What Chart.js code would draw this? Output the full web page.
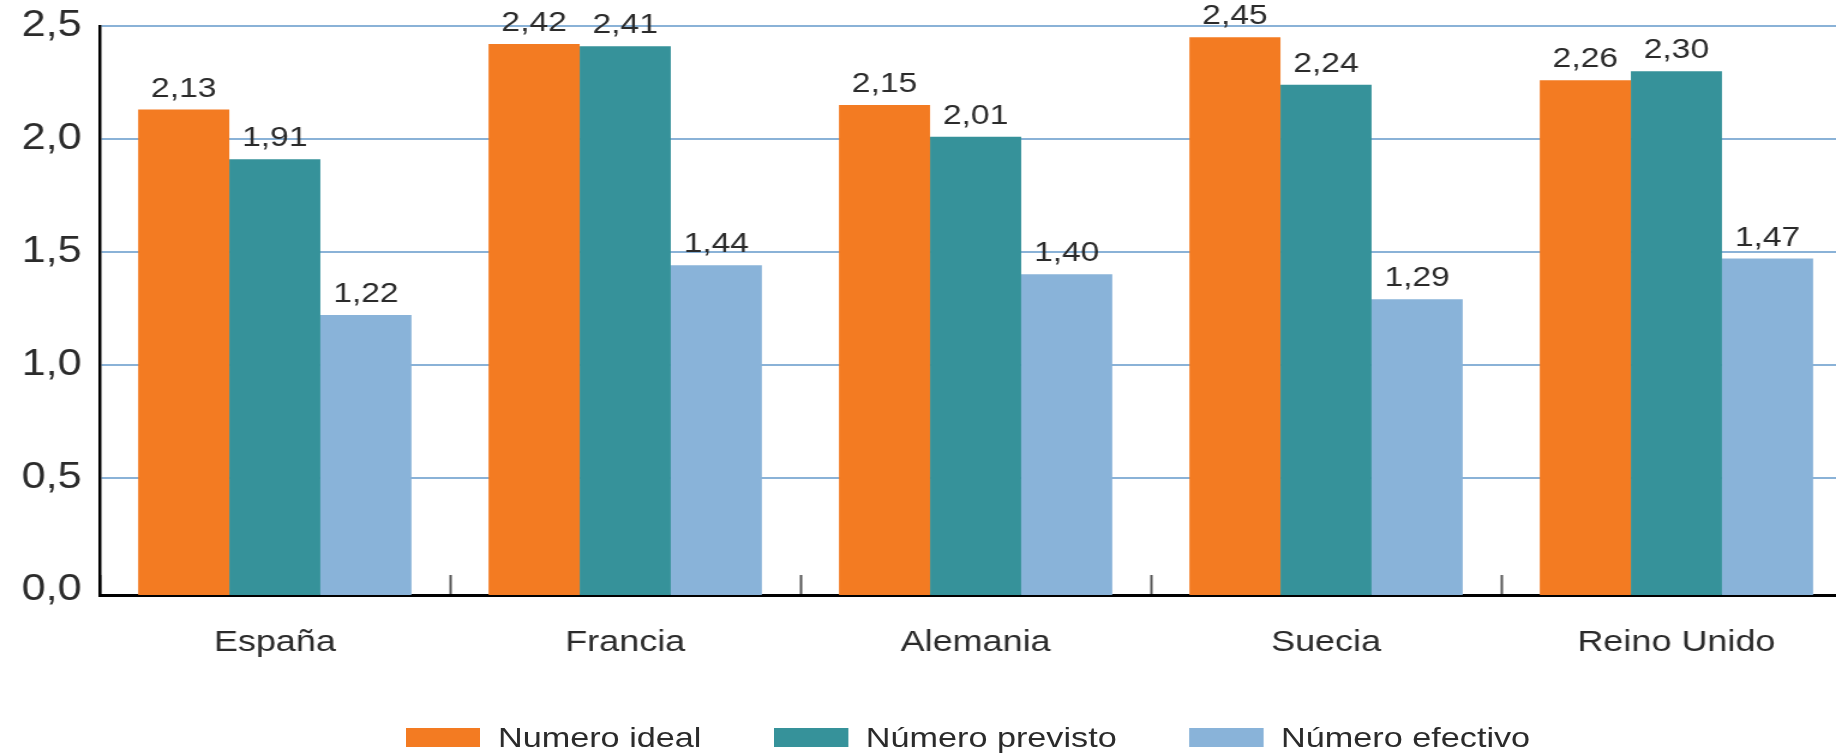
<!DOCTYPE html>
<html lang="es">
<head>
<meta charset="utf-8">
<title>Número de hijos: ideal, previsto y efectivo</title>
<script src="https://cdn.jsdelivr.net/npm/chart.js@4.4.1/dist/chart.umd.min.js"></script>
<style>
  html, body { margin: 0; padding: 0; background: #fff; overflow: hidden; }
  #wrap {
    position: relative;
    width: 1543px;
    height: 755px;
    transform: scaleX(1.2);
    transform-origin: 0 0;
    font-family: 'Liberation Sans', Arial, sans-serif;
  }
  #chartBox { position: absolute; left: 0; top: 0; width: 1543px; height: 755px; }
  #legend {
    position: absolute;
    left: 338px;
    top: 721px;
    display: flex;
    align-items: center;
    gap: 60px;
    font-size: 28.5px;
    color: #2b2b2b;
    white-space: nowrap;
  }
  #legend .item { display: flex; align-items: center; }
  #legend .swatch { width: 62px; height: 19px; margin-right: 15px; }
</style>
</head>
<body>
<div id="wrap">
  <div id="chartBox"><canvas id="c"></canvas></div>
  <div id="legend"></div>
</div>
<script>
// Countries on the category axis
const categories = ['España', 'Francia', 'Alemania', 'Suecia', 'Reino Unido'];

// Average number of children per series
const idealValues    = [2.13, 2.42, 2.15, 2.45, 2.26];
const previstoValues = [1.91, 2.41, 2.01, 2.24, 2.30];
const efectivoValues = [1.22, 1.44, 1.40, 1.29, 1.47];

const seriesNames = ['Numero ideal', 'Número previsto', 'Número efectivo'];

// Value axis ticks
const yTickValues = [0, 0.5, 1.0, 1.5, 2.0, 2.5];
const yTickLabels = ['0,0', '0,5', '1,0', '1,5', '2,0', '2,5'];

const FONT = "'Liberation Sans', Arial, sans-serif";
const ORANGE = '#F37B22';
const TEAL = '#36929A';
const LIGHT = '#89B3D9';
const GRID = '#8AB2D7';
const AXIS_MIN = -0.02;   // axis line sits just below the zero level

const fmt = v => v.toFixed(2).replace('.', ',');

// Value labels above each bar
const valueLabels = {
  id: 'valueLabels',
  afterDatasetsDraw(chart) {
    const ctx = chart.ctx;
    ctx.save();
    ctx.font = '28px ' + FONT;
    ctx.fillStyle = '#2b2b2b';
    ctx.textAlign = 'center';
    ctx.textBaseline = 'alphabetic';
    chart.data.datasets.forEach((ds, i) => {
      chart.getDatasetMeta(i).data.forEach((bar, j) => {
        ctx.fillText(fmt(ds.data[j]), bar.x, bar.y - 13);
      });
    });
    ctx.restore();
  }
};

const chart = new Chart(document.getElementById('c'), {
  type: 'bar',
  data: {
    labels: categories,
    datasets: [
      { label: seriesNames[0], data: idealValues,    backgroundColor: ORANGE },
      { label: seriesNames[1], data: previstoValues, backgroundColor: TEAL },
      { label: seriesNames[2], data: efectivoValues, backgroundColor: LIGHT }
    ]
  },
  options: {
    responsive: true,
    maintainAspectRatio: false,
    animation: false,
    layout: { padding: { top: 26, left: 0, right: 0, bottom: 0 } },
    datasets: {
      bar: {
        base: AXIS_MIN,
        categoryPercentage: 0.78,
        barPercentage: 1.0,
        borderWidth: 0
      }
    },
    plugins: {
      legend: { display: false },
      tooltip: { enabled: false }
    },
    scales: {
      x: {
        offset: true,
        grid: {
          offset: true,
          display: true,
          drawOnChartArea: false,
          drawTicks: true,
          tickLength: -20,
          tickWidth: 2,
          tickColor: '#555'
        },
        border: { display: true, color: '#000', width: 3 },
        ticks: {
          padding: 50,
          color: '#2b2b2b',
          font: { family: FONT, size: 30 }
        },
        afterFit(scale) {
          scale.height = 160;
          scale.paddingLeft = 0;
          scale.paddingRight = 0;
        }
      },
      y: {
        min: AXIS_MIN,
        max: 2.5,
        afterBuildTicks(scale) {
          scale.ticks = yTickValues.map(v => ({ value: v }));
        },
        afterFit(scale) {
          scale.width = 83;
          scale.paddingTop = 0;
          scale.paddingBottom = 0;
        },
        grid: {
          drawTicks: false,
          lineWidth: 2,
          color: c => (c.tick && c.tick.value === 0) ? 'rgba(0,0,0,0)' : GRID
        },
        border: { display: true, color: '#000', width: 2.5 },
        ticks: {
          padding: 15,
          color: '#2b2b2b',
          font: { family: FONT, size: 36 },
          callback: v => {
            const k = yTickValues.findIndex(t => Math.abs(t - v) < 1e-9);
            return k >= 0 ? yTickLabels[k] : '';
          }
        }
      }
    }
  },
  plugins: [valueLabels]
});

// Legend built from the chart's own legend items
const legendEl = document.getElementById('legend');
chart.options.plugins.legend.labels.generateLabels(chart).forEach(item => {
  const el = document.createElement('div');
  el.className = 'item';
  const sw = document.createElement('span');
  sw.className = 'swatch';
  sw.style.background = item.fillStyle;
  const tx = document.createElement('span');
  tx.textContent = item.text;
  el.appendChild(sw);
  el.appendChild(tx);
  legendEl.appendChild(el);
});
</script>
</body>
</html>
